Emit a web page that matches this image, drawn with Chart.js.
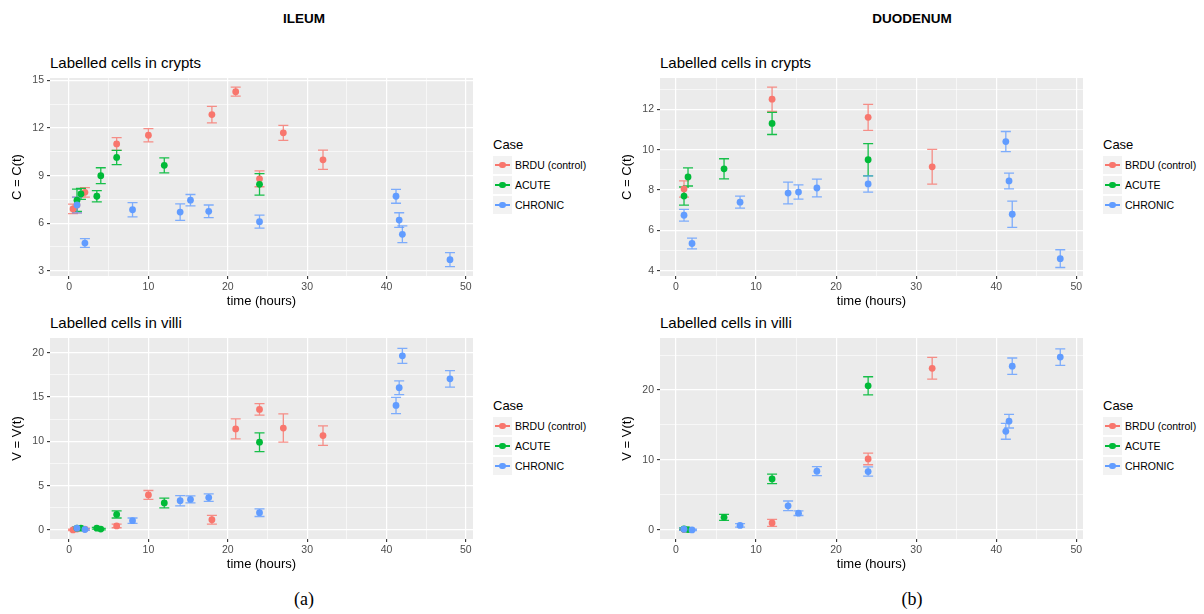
<!DOCTYPE html>
<html>
<head>
<meta charset="utf-8">
<script src="https://cdn.jsdelivr.net/npm/chart.js@4.4.0/dist/chart.umd.min.js"></script>
<style>
  body { margin: 0; background: #fff; width: 1204px; height: 614px; position: relative; overflow: hidden;
         font-family: "Liberation Sans", Arial, sans-serif; color: #000; }
  canvas { position: absolute; }
  .t { position: absolute; white-space: nowrap; line-height: 1; }
  .head { font-weight: bold; font-size: 13.5px; transform: translateX(-50%); }
  .sub { font-size: 15px; }
  .cap { font-family: "Liberation Serif", "DejaVu Serif", serif; font-size: 18px; transform: translateX(-50%); }
  .legend { position: absolute; font-size: 10.5px; }
  .legend .ttl { font-size: 13px; height: 16px; line-height: 16px; margin-bottom: 2px; }
  .legend .row { display: flex; align-items: center; height: 20px; }
  .legend .key { position: relative; width: 19px; height: 18.3px; background: #F2F2F2; margin-right: 3px; }
  .legend .key .ln { position: absolute; left: 2px; right: 2px; top: 8.5px; height: 1.3px; }
  .legend .key .dt { position: absolute; left: 6.2px; top: 6px; width: 6.6px; height: 6.6px; border-radius: 50%; }
</style>
</head>
<body>

<div class="t head" style="left:304px; top:12px;">ILEUM</div>
<div class="t head" style="left:912px; top:12px;">DUODENUM</div>

<div class="t sub" style="left:50px; top:55px;">Labelled cells in crypts</div>
<div class="t sub" style="left:660px; top:55px;">Labelled cells in crypts</div>
<div class="t sub" style="left:50px; top:315px;">Labelled cells in villi</div>
<div class="t sub" style="left:660px; top:315px;">Labelled cells in villi</div>

<canvas id="ileumCrypts"  width="480" height="250" style="left:0px;   top:60px;"></canvas>
<canvas id="duoCrypts"    width="480" height="250" style="left:610px; top:60px;"></canvas>
<canvas id="ileumVilli"   width="480" height="253" style="left:0px;   top:320px;"></canvas>
<canvas id="duoVilli"     width="480" height="253" style="left:610px; top:320px;"></canvas>

<div class="t cap" style="left:304px; top:590px;">(a)</div>
<div class="t cap" style="left:912px; top:590px;">(b)</div>

<script>
// ---- groups ----
const caseNames  = ['BRDU (control)', 'ACUTE', 'CHRONIC'];
const caseColors = ['#F8766D', '#00BA38', '#619CFF'];
const barColors  = ['rgba(248,118,109,0.8)', 'rgba(0,186,56,0.9)', 'rgba(97,156,255,0.8)'];

// ---- axis ticks ----
const xTicksMajor = [0, 10, 20, 30, 40, 50];
const xTicksMinor = [5, 15, 25, 35, 45];
const ileumCryptTicks      = [3, 6, 9, 12, 15];
const ileumCryptMinorTicks = [4.5, 7.5, 10.5, 13.5];
const duoCryptTicks        = [4, 6, 8, 10, 12];
const duoCryptMinorTicks   = [5, 7, 9, 11, 13];
const ileumVilliTicks      = [0, 5, 10, 15, 20];
const ileumVilliMinorTicks = [2.5, 7.5, 12.5, 17.5];
const duoVilliTicks        = [0, 10, 20];
const duoVilliMinorTicks   = [5, 15, 25];

// ---- ILEUM ----
const ileumBrduTime      = [0.5, 1, 2, 6, 10, 18, 21, 24, 27, 32];
const ileumBrduCrypt     = [6.9, 7.15, 7.95, 11.0, 11.55, 12.85, 14.3, 8.8, 11.7, 10.0];
const ileumBrduCryptErr  = [0.3, 0.5, 0.3, 0.4, 0.42, 0.52, 0.28, 0.5, 0.47, 0.61];
const ileumBrduVilli     = [0.0, 0.1, 0.1, 0.45, 3.95, 1.15, 11.4, 13.6, 11.5, 10.65];
const ileumBrduVilliErr  = [0.08, 0.1, 0.1, 0.2, 0.5, 0.5, 1.13, 0.65, 1.6, 1.1];

const ileumAcuteTime     = [1, 1.5, 3.5, 4, 6, 12, 24];
const ileumAcuteCrypt    = [7.45, 7.85, 7.7, 9.0, 10.15, 9.65, 8.45];
const ileumAcuteCryptErr = [0.7, 0.35, 0.35, 0.5, 0.45, 0.47, 0.68];
const ileumAcuteVilli    = [0.2, 0.2, 0.2, 0.1, 1.75, 3.05, 9.9];
const ileumAcuteVilliErr = [0.15, 0.15, 0.1, 0.08, 0.4, 0.55, 1.05];

const chronicTime          = [1, 2, 8, 14, 15.3, 17.6, 24, 41.2, 41.6, 42, 48];
const ileumChronicCrypt    = [7.15, 4.75, 6.85, 6.7, 7.45, 6.75, 6.1, 7.7, 6.2, 5.3, 3.7];
const ileumChronicCryptErr = [0.5, 0.28, 0.45, 0.52, 0.36, 0.4, 0.41, 0.44, 0.46, 0.53, 0.44];
const ileumChronicVilli    = [0.2, 0.05, 1.05, 3.3, 3.45, 3.65, 1.95, 14.05, 16.05, 19.65, 17.05];
const ileumChronicVilliErr = [0.15, 0.1, 0.3, 0.58, 0.4, 0.43, 0.43, 0.92, 0.77, 0.85, 0.94];

// ---- DUODENUM ----
const duoBrduTime       = [1, 12, 24, 32];
const duoBrduCrypt      = [8.05, 12.5, 11.6, 9.15];
const duoBrduCryptErr   = [0.4, 0.6, 0.64, 0.86];
const duoBrduVilli      = [0.05, 1.0, 10.15, 23.1];
const duoBrduVilliErr   = [0.1, 0.5, 0.83, 1.55];

const duoAcuteTime      = [1, 1.5, 6, 12, 24];
const duoAcuteCrypt     = [7.7, 8.65, 9.05, 11.3, 9.5];
const duoAcuteCryptErr  = [0.45, 0.45, 0.5, 0.55, 0.8];
const duoAcuteVilli     = [0.15, 0.05, 1.8, 7.3, 20.6];
const duoAcuteVilliErr  = [0.15, 0.1, 0.43, 0.67, 1.29];

const duoChronicCrypt    = [6.75, 5.35, 7.4, 7.85, 7.9, 8.1, 8.3, 10.4, 8.45, 6.8, 4.6];
const duoChronicCryptErr = [0.29, 0.27, 0.3, 0.54, 0.35, 0.44, 0.4, 0.5, 0.39, 0.65, 0.44];
const duoChronicVilli    = [0.1, 0.0, 0.65, 3.45, 2.4, 8.4, 8.35, 14.1, 15.55, 23.4, 24.7];
const duoChronicVilliErr = [0.15, 0.1, 0.25, 0.69, 0.33, 0.64, 0.67, 1.14, 0.98, 1.17, 1.19];

const FONT = '"Liberation Sans", Arial, sans-serif';

// grey panel background
const panelBackground = {
  id: 'panelBackground',
  beforeDraw(chart) {
    const { ctx, chartArea: a } = chart;
    ctx.save();
    ctx.fillStyle = '#EBEBEB';
    ctx.fillRect(a.left, a.top, a.right - a.left, a.bottom - a.top);
    ctx.restore();
  }
};

// vertical error bars with caps, drawn underneath the points
const errorBars = {
  id: 'errorBars',
  beforeDatasetsDraw(chart) {
    const { ctx, scales: { x, y }, chartArea: a } = chart;
    ctx.save();
    ctx.beginPath();
    ctx.rect(a.left, a.top, a.right - a.left, a.bottom - a.top);
    ctx.clip();
    ctx.lineWidth = 1.3;
    const metas = chart.getSortedVisibleDatasetMetas().slice().reverse();
    metas.forEach(meta => {
      const ds = chart.data.datasets[meta.index];
      ctx.strokeStyle = ds.barColor;
      ds.data.forEach((p, i) => {
        const px = x.getPixelForValue(p.x);
        const hi = y.getPixelForValue(p.y + ds.errors[i]);
        const lo = y.getPixelForValue(p.y - ds.errors[i]);
        ctx.beginPath();
        ctx.moveTo(px, hi); ctx.lineTo(px, lo);
        ctx.moveTo(px - 5, hi); ctx.lineTo(px + 5, hi);
        ctx.moveTo(px - 5, lo); ctx.lineTo(px + 5, lo);
        ctx.stroke();
      });
    });
    ctx.restore();
  }
};

function axis(major, minor, min, max, title, horizontal) {
  const all = major.concat(minor).sort((a, b) => a - b);
  const isMajor = v => major.some(m => Math.abs(m - v) < 1e-9);
  return {
    type: 'linear',
    min, max,
    afterBuildTicks: s => { s.ticks = all.map(v => ({ value: v })); },
    afterFit: s => { if (horizontal) s.height = 34; else s.width = 50; },
    border: { display: false },
    grid: {
      color: '#FFFFFF',
      lineWidth: c => (c.tick && isMajor(c.tick.value)) ? 1.2 : 0.6,
      tickColor: c => (c.tick && isMajor(c.tick.value)) ? '#333333' : 'rgba(0,0,0,0)',
      tickWidth: 1.1,
      tickLength: 3
    },
    ticks: {
      autoSkip: false, maxRotation: 0, minRotation: 0,
      padding: horizontal ? 2 : 3,
      color: '#4D4D4D',
      font: { family: FONT, size: 10.5 },
      callback: v => isMajor(v) ? String(v) : ''
    },
    title: {
      display: true, text: title, color: '#000',
      font: { family: FONT, size: 13 },
      padding: horizontal ? { top: 0, bottom: 1 } : { top: 10, bottom: 0 }
    }
  };
}

function buildPanel(id, series, xr, yMajor, yMinor, yr, yTitle) {
  const datasets = series.map((s, k) => ({
    label: caseNames[k],
    data: s.t.map((t, i) => ({ x: t, y: s.v[i] })),
    errors: s.e,
    barColor: barColors[k],
    backgroundColor: caseColors[k],
    borderWidth: 0,
    pointRadius: 3.4,
    pointBorderWidth: 0,
    showLine: false,
    order: 3 - k
  }));
  new Chart(document.getElementById(id), {
    type: 'scatter',
    data: { datasets },
    options: {
      responsive: false,
      animation: false,
      events: [],
      layout: { padding: { left: 0, right: 7, top: 18, bottom: 0 } },
      plugins: { legend: { display: false }, tooltip: { enabled: false }, title: { display: false } },
      scales: {
        x: axis(xTicksMajor, xTicksMinor, xr[0], xr[1], 'time (hours)', true),
        y: axis(yMajor, yMinor, yr[0], yr[1], yTitle, false)
      }
    },
    plugins: [panelBackground, errorBars]
  });
}

buildPanel('ileumCrypts', [
  { t: ileumBrduTime,  v: ileumBrduCrypt,    e: ileumBrduCryptErr },
  { t: ileumAcuteTime, v: ileumAcuteCrypt,   e: ileumAcuteCryptErr },
  { t: chronicTime,    v: ileumChronicCrypt, e: ileumChronicCryptErr }
], [-2.4, 50.9], ileumCryptTicks, ileumCryptMinorTicks, [2.67, 15.16], 'C = C(t)');

buildPanel('duoCrypts', [
  { t: duoBrduTime,  v: duoBrduCrypt,    e: duoBrduCryptErr },
  { t: duoAcuteTime, v: duoAcuteCrypt,   e: duoAcuteCryptErr },
  { t: chronicTime,  v: duoChronicCrypt, e: duoChronicCryptErr }
], [-2.0, 50.84], duoCryptTicks, duoCryptMinorTicks, [3.74, 13.55], 'C = C(t)');

buildPanel('ileumVilli', [
  { t: ileumBrduTime,  v: ileumBrduVilli,    e: ileumBrduVilliErr },
  { t: ileumAcuteTime, v: ileumAcuteVilli,   e: ileumAcuteVilliErr },
  { t: chronicTime,    v: ileumChronicVilli, e: ileumChronicVilliErr }
], [-2.4, 50.9], ileumVilliTicks, ileumVilliMinorTicks, [-1.02, 21.66], 'V = V(t)');

buildPanel('duoVilli', [
  { t: duoBrduTime,  v: duoBrduVilli,    e: duoBrduVilliErr },
  { t: duoAcuteTime, v: duoAcuteVilli,   e: duoAcuteVilliErr },
  { t: chronicTime,  v: duoChronicVilli, e: duoChronicVilliErr }
], [-2.0, 50.84], duoVilliTicks, duoVilliMinorTicks, [-1.29, 27.43], 'V = V(t)');

// legends, one beside each panel
function buildLegend(left, top) {
  const box = document.createElement('div');
  box.className = 'legend';
  box.style.left = left + 'px';
  box.style.top = top + 'px';
  let html = '<div class="ttl">Case</div>';
  caseNames.forEach((name, k) => {
    html += '<div class="row"><div class="key">' +
      '<div class="ln" style="background:' + caseColors[k] + '"></div>' +
      '<div class="dt" style="background:' + caseColors[k] + '"></div>' +
      '</div><span>' + name + '</span></div>';
  });
  box.innerHTML = html;
  document.body.appendChild(box);
}
buildLegend(493, 137);
buildLegend(1103, 137);
buildLegend(493, 398);
buildLegend(1103, 398);
</script>
</body>
</html>
